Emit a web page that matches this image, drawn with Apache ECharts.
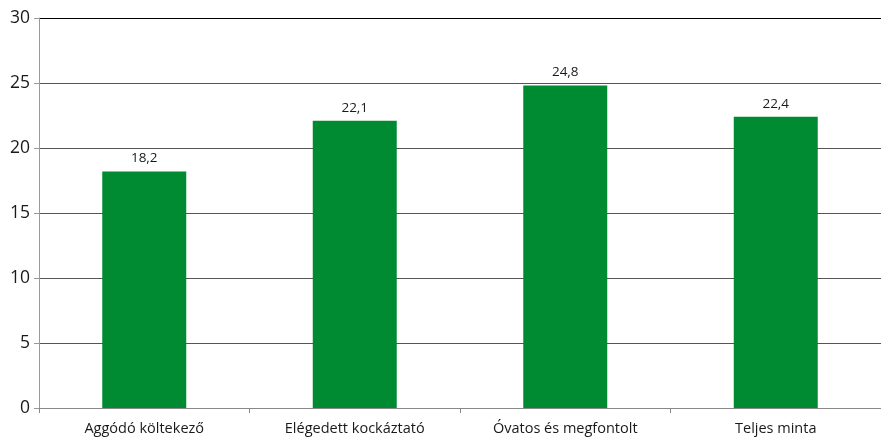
<!DOCTYPE html>
<html><head><meta charset="utf-8">
<script src="https://cdn.jsdelivr.net/npm/echarts@6/dist/echarts.min.js"></script>
<style>html,body{margin:0;padding:0;background:#fff}#c{width:881px;height:438px}</style>
</head><body><div id="c"></div>
<script>
const categories = ['Aggódó költekező', 'Elégedett kockáztató', 'Óvatos és megfontolt', 'Teljes minta'];
const values = [18.2, 22.1, 24.8, 22.4];
const yTicks = [0, 5, 10, 15, 20, 25, 30];

const chart = echarts.init(document.getElementById('c'));
chart.setOption({
  animation: false,
  grid: { left: 39, width: 845, top: 18, height: 390, containLabel: false },
  xAxis: {
    type: 'category',
    data: categories,
    axisLine: { lineStyle: { color: '#888', width: 1 } },
    axisTick: { show: true, length: 5, lineStyle: { color: '#888' } },
    axisLabel: { color: '#1a1a1a', fontFamily: 'Open Sans', fontSize: 14.5, margin: 13 }
  },
  yAxis: {
    type: 'value',
    min: yTicks[0], max: yTicks[yTicks.length - 1], interval: 5,
    axisLine: { show: true, lineStyle: { color: '#999', width: 1 } },
    axisTick: { show: true, length: 5, lineStyle: { color: '#999' } },
    axisLabel: { color: '#1a1a1a', fontFamily: 'Open Sans', fontSize: 17.5, margin: 9 },
    splitLine: { show: true, lineStyle: { color: ['#888', '#555', '#555', '#555', '#555', '#555', '#000'], width: 1 } }
  },
  series: [{
    type: 'bar',
    data: values,
    barWidth: 84,
    itemStyle: { color: '#008A32' },
    label: {
      show: true, position: 'top', distance: 6,
      color: '#1a1a1a', fontFamily: 'Open Sans', fontSize: 13.5,
      formatter: p => p.value.toFixed(1).replace('.', ',')
    }
  }]
});
</script></body></html>
